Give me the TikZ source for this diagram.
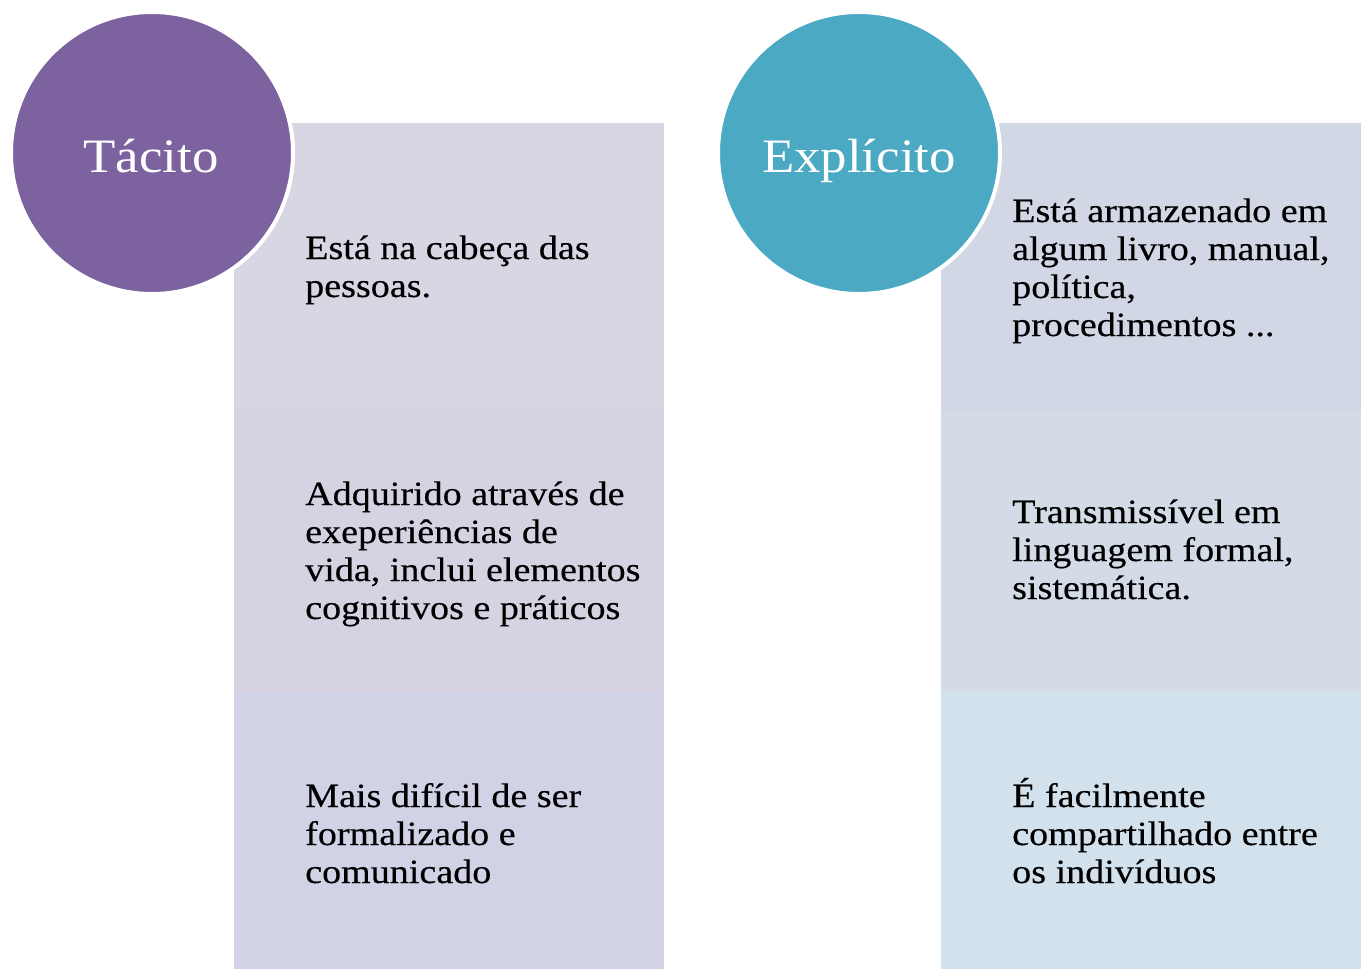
\documentclass[tikz,border=0pt]{standalone}
\usepackage{fontspec}
\setmainfont[FakeStretch=1.12,FakeBold=0.35]{Liberation Serif}
\newfontfamily\headfont[FakeStretch=1.1]{Liberation Serif}
\definecolor{cpurple}{HTML}{7C629F}
\definecolor{cteal}{HTML}{4BA9C3}
\definecolor{lA}{HTML}{D7D6E2}
\definecolor{lB}{HTML}{D7D2E2}
\definecolor{lC}{HTML}{D2D2E6}
\definecolor{rA}{HTML}{D1D7E5}
\definecolor{rB}{HTML}{D2DBE6}
\definecolor{rC}{HTML}{D3E1EC}
\tikzset{
  seg/.style={anchor=north west, inner sep=0, outer sep=0, draw=none},
  lseg/.style={seg, minimum width=430pt},
  rseg/.style={seg, minimum width=420pt},
  head/.style={circle, draw=white, line width=4pt, minimum size=282pt, inner sep=0},
  headtxt/.style={text=white, font=\headfont\fontsize{48}{56}\selectfont, anchor=base, inner sep=0},
  body/.style={anchor=base west, inner sep=0, font=\fontsize{34}{38}\selectfont, text=black}
}
\newcommand{\lines}[1]{\begin{tabular}[t]{@{}l@{}}#1\end{tabular}}
\begin{document}
\begin{tikzpicture}[x=1pt,y=-1pt]
\useasboundingbox (0,0) rectangle (1361,969);
% left column
\node[lseg, fill=lA, minimum height=284pt] (l1) at (234,123) {};
\node[lseg, fill=lB, minimum height=284pt] (l2) at (234,407) {};
\node[lseg, fill=lC, minimum height=279pt] (l3) at (234,691) {};
% right column
\node[rseg, fill=rA, minimum height=288pt] (r1) at (941,123) {};
\node[rseg, fill=rB, minimum height=280pt] (r2) at (941,411) {};
\node[rseg, fill=rC, minimum height=278pt] (r3) at (941,691) {};
% circles
\node[head, fill=cpurple] (c1) at (152,153) {};
\node[head, fill=cteal] (c2) at (859,153) {};
\node[headtxt] (h1) at (151,172) {Tácito};
\node[headtxt] (h2) at (859,172) {Explícito};
% texts
\node[body] (t1) at (305,259) {\lines{Está na cabeça das\\pessoas.}};
\node[body] (t2) at (305,505) {\lines{Adquirido através de\\exeperiências de\\vida, inclui elementos\\cognitivos e práticos}};
\node[body] (t3) at (305,807) {\lines{Mais difícil de ser\\formalizado e\\comunicado}};
\node[body] (t4) at (1012,222) {\lines{Está armazenado em\\algum livro, manual,\\política,\\procedimentos ...}};
\node[body] (t5) at (1012,523) {\lines{Transmissível em\\linguagem formal,\\sistemática.}};
\node[body] (t6) at (1012,807) {\lines{É facilmente\\compartilhado entre\\os indivíduos}};
\end{tikzpicture}
\end{document}
